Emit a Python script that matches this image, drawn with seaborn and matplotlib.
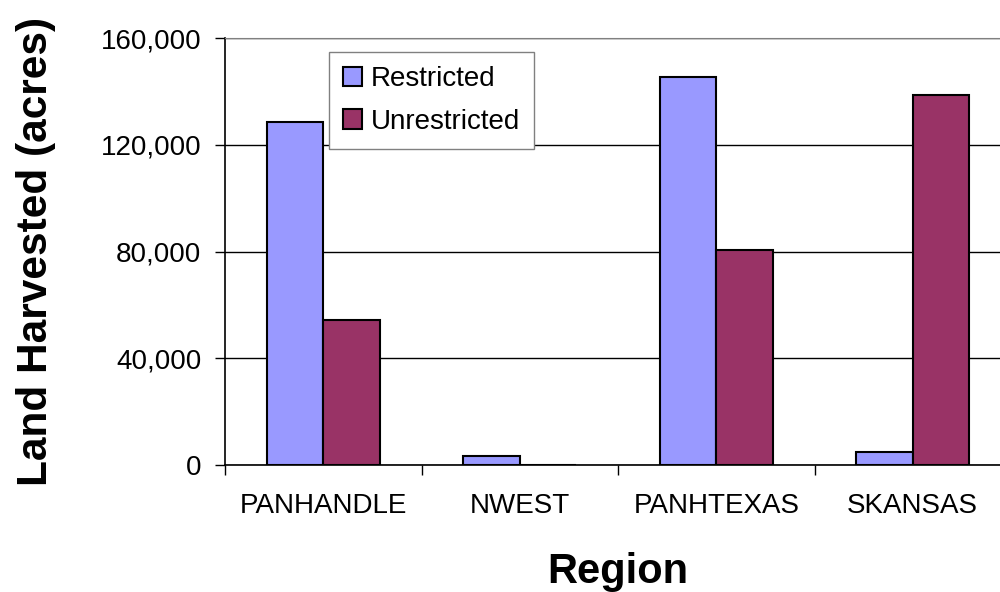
import pandas as pd
import matplotlib
matplotlib.use("Agg")
import matplotlib.pyplot as plt
import seaborn as sns

# Values
regions = ['PANHANDLE', 'NWEST', 'PANHTEXAS', 'SKANSAS']
restricted = [128500, 3300, 145400, 4900]
unrestricted = [54300, 0, 80500, 138600]
series_names = ['Restricted', 'Unrestricted']
y_ticks = [0, 40000, 80000, 120000, 160000]
y_tick_labels = ['0', '40,000', '80,000', '120,000', '160,000']

# Long-form table for seaborn
df = pd.concat([
    pd.DataFrame({'Region': regions, 'Acres': restricted, 'Type': series_names[0]}),
    pd.DataFrame({'Region': regions, 'Acres': unrestricted, 'Type': series_names[1]}),
])

sns.set_style("white")
plt.rcParams['font.family'] = ['Liberation Sans', 'DejaVu Sans']
plt.rcParams['text.color'] = 'black'
plt.rcParams['axes.labelcolor'] = 'black'
plt.rcParams['xtick.color'] = 'black'
plt.rcParams['ytick.color'] = 'black'

fig = plt.figure(figsize=(10, 5.92), dpi=100)
ax = fig.add_axes([0.225, 0.2145, 0.786, 0.7213])

sns.barplot(data=df, x='Region', y='Acres', hue='Type', order=regions,
            hue_order=series_names, palette=['#9999FF', '#993366'],
            saturation=1, width=0.575, edgecolor='black', linewidth=1.5,
            errorbar=None, ax=ax)

ax.set_xlim(-0.5, 3.5)
ax.set_ylim(0, 160000)
ax.set_yticks(y_ticks)
ax.set_yticklabels(y_tick_labels)
ax.yaxis.grid(True, color='black', linewidth=1)
ax.set_axisbelow(True)

# Excel-style ticks: category boundaries get the marks
ax.set_xticks([-0.5, 0.5, 1.5, 2.5, 3.5], minor=True)
ax.tick_params(axis='x', which='major', bottom=True, length=0, labelsize=20, pad=20)
ax.tick_params(axis='x', which='minor', bottom=True, length=7, width=1, color='black', direction='out')
ax.tick_params(axis='y', left=True, length=7, width=1, color='black', direction='out', labelsize=20, pad=10)

for side in ['left', 'bottom']:
    ax.spines[side].set_color('black')
    ax.spines[side].set_linewidth(1.2)
ax.spines['top'].set_color('#808080')
ax.spines['right'].set_visible(False)

ax.set_xlabel('Region', fontsize=30, fontweight='bold', labelpad=24)
ax.set_ylabel('Land Harvested (acres)', fontsize=30.5, fontweight='bold', labelpad=32)

leg = ax.legend(loc='upper left', bbox_to_anchor=(0.132, 0.967), borderaxespad=0,
                fontsize=20, frameon=True, fancybox=False, framealpha=1,
                handlelength=0.7, handleheight=0.7, handletextpad=0.3,
                labelspacing=0.6, borderpad=0.5)
leg.get_frame().set_edgecolor('#808080')
leg.get_frame().set_linewidth(1)
leg.set_title(None)

fig.savefig('out.png', dpi=100)
